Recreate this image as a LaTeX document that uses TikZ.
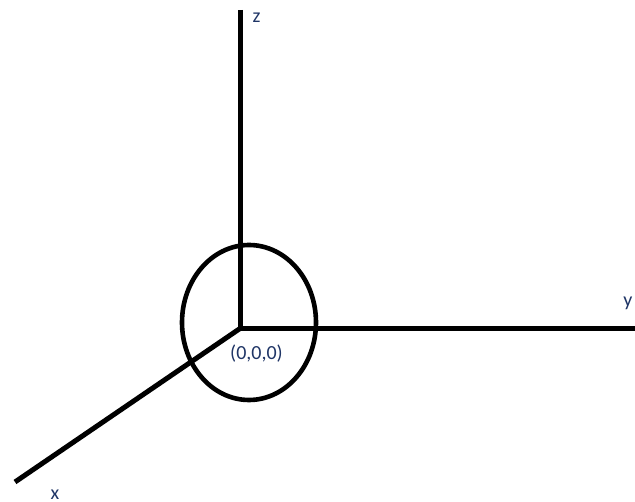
\documentclass[tikz,border=0pt]{standalone}
\usepackage{fontspec}
\setmainfont{Carlito}
\definecolor{lbl}{HTML}{1F3566}
\begin{document}
\begin{tikzpicture}[x=1pt,y=-1pt,
  axis/.style={line width=5pt},
  ring/.style={line width=4.6pt},
  lab/.style={text=lbl,font=\fontsize{20}{24}\selectfont,inner sep=0pt}]
\useasboundingbox (0,0) rectangle (635,502);
\fill[white] (0,0) rectangle (635,502);
\coordinate (o) at (240,328.5);
\coordinate (ztop) at (240,10);
\coordinate (yend) at (635,328.5);
\coordinate (xend) at (15,482);
\draw[ring] (249,322.5) ellipse [x radius=67, y radius=77.5];
\draw[axis] (ztop) -- (o);
\draw[axis] (o) -- (yend);
\draw[axis] (o) -- (xend);
\node[lab] (zl) at (256.5,18) {z};
\node[lab] (yl) at (628,303) {y};
\node[lab] (xl) at (55,494.5) {x};
\node[lab] (ol) at (256.5,354) {(0,0,0)};
\end{tikzpicture}
\end{document}
